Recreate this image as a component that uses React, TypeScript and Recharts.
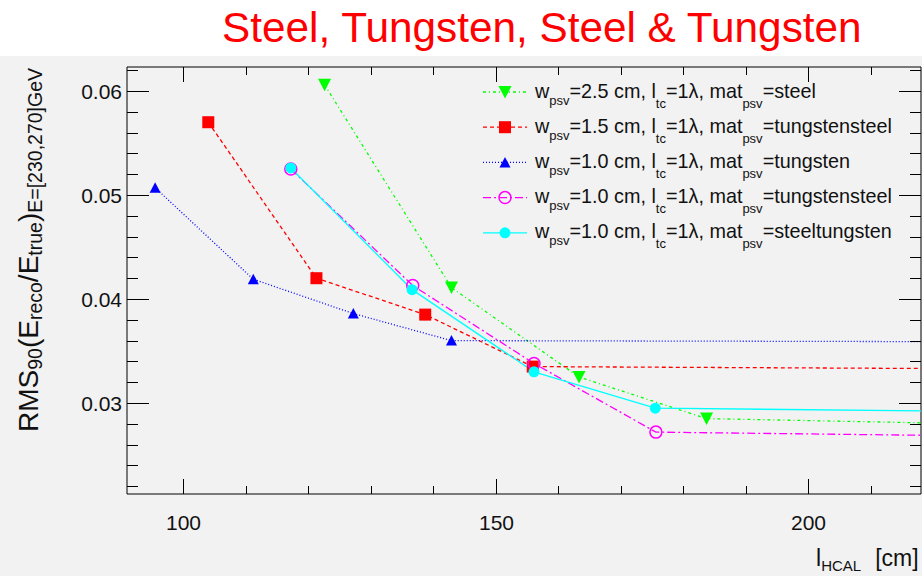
import React from "react";
import {
  LineChart,
  Line,
  XAxis,
  YAxis,
  CartesianGrid,
  ReferenceArea,
  Legend,
} from "recharts";

// tick values (l_HCAL in cm, RMS90 ratio)
const xTicks = [100, 110, 120, 130, 140, 150, 160, 170, 180, 190, 200, 210];
const yTicks = [
  0.022, 0.024, 0.026, 0.028, 0.03, 0.032, 0.034, 0.036, 0.038, 0.04, 0.042,
  0.044, 0.046, 0.048, 0.05, 0.052, 0.054, 0.056, 0.058, 0.06, 0.062,
];

// w_psv = 2.5 cm, steel
const steelX = [122.6, 142.9, 163.3, 183.7, 260];
const steelY = [0.0606, 0.0411, 0.0325, 0.0285, 0.0276];
// w_psv = 1.5 cm, tungstensteel
const tsteel15X = [104.0, 121.3, 138.7, 155.9, 260];
const tsteel15Y = [0.057, 0.042, 0.0385, 0.0335, 0.0332];
// w_psv = 1.0 cm, tungsten
const tungstenX = [95.5, 111.2, 127.2, 142.9, 260];
const tungstenY = [0.0507, 0.0419, 0.0386, 0.036, 0.03585];
// w_psv = 1.0 cm, tungstensteel
const tsteel10X = [117.2, 136.7, 156.1, 175.6, 260];
const tsteel10Y = [0.0525, 0.0413, 0.0338, 0.0272, 0.0266];
// w_psv = 1.0 cm, steeltungsten
const stungX = [117.2, 136.6, 156.1, 175.5, 260];
const stungY = [0.0526, 0.0409, 0.033, 0.0295, 0.029];

const legendWidths = ["2.5", "1.5", "1.0", "1.0", "1.0"];
const legendMaterials = ["steel", "tungstensteel", "tungsten", "tungstensteel", "steeltungsten"];

const FONT = "'Liberation Sans', Arial, Helvetica, sans-serif";
const FRAME = { left: 127, top: 67, right: 921, bottom: 494 };

type MarkerKind = "triDown" | "square" | "triUp" | "circleOpen" | "circle";

const series = [
  { key: "steel", xs: steelX, ys: steelY, color: "#00ff00", dash: "3 3 1 3", marker: "triDown" as MarkerKind },
  { key: "tsteel15", xs: tsteel15X, ys: tsteel15Y, color: "#ff0000", dash: "4 3", marker: "square" as MarkerKind },
  { key: "tungsten", xs: tungstenX, ys: tungstenY, color: "#0000ff", dash: "1 2", marker: "triUp" as MarkerKind },
  { key: "tsteel10", xs: tsteel10X, ys: tsteel10Y, color: "#ff00ff", dash: "8 3 2 3", marker: "circleOpen" as MarkerKind },
  { key: "stung", xs: stungX, ys: stungY, color: "#00ffff", dash: undefined, marker: "circle" as MarkerKind },
];

function Marker({ kind, cx, cy, color }: { kind: MarkerKind; cx: number; cy: number; color: string }) {
  switch (kind) {
    case "triDown":
      return <polygon points={`${cx - 6.5},${cy - 6} ${cx + 6.5},${cy - 6} ${cx},${cy + 6.5}`} fill={color} />;
    case "square":
      return <rect x={cx - 6} y={cy - 6} width={12} height={12} fill={color} />;
    case "triUp":
      return <polygon points={`${cx - 5.5},${cy + 5} ${cx + 5.5},${cy + 5} ${cx},${cy - 5.5}`} fill={color} />;
    case "circleOpen":
      return <circle cx={cx} cy={cy} r={6} fill="none" stroke={color} strokeWidth={1.5} />;
    default:
      return <circle cx={cx} cy={cy} r={5.5} fill={color} />;
  }
}

function XTick(props: any) {
  const x = Math.round(props.x) + 0.5;
  const v = props.payload.value;
  const major = v % 50 === 0;
  const len = major ? 15 : 8;
  return (
    <g>
      <line x1={x} x2={x} y1={FRAME.bottom} y2={FRAME.bottom - len} stroke="#000" />
      <line x1={x} x2={x} y1={FRAME.top} y2={FRAME.top + len} stroke="#000" />
      {major && (
        <text x={x} y={530} textAnchor="middle" fontSize={21} fontFamily={FONT} fill="#111">
          {v}
        </text>
      )}
    </g>
  );
}

function YTick(props: any) {
  const y = Math.round(props.y) + 0.5;
  const v = props.payload.value;
  const major = Math.abs(v * 100 - Math.round(v * 100)) < 1e-9;
  const len = major ? 22 : 11;
  return (
    <g>
      <line x1={FRAME.left} x2={FRAME.left + len} y1={y} y2={y} stroke="#000" />
      <line x1={FRAME.right} x2={FRAME.right - len} y1={y} y2={y} stroke="#000" />
      {major && (
        <text x={122} y={y + 7.5} textAnchor="end" fontSize={21} fontFamily={FONT} fill="#111">
          {v.toFixed(2)}
        </text>
      )}
    </g>
  );
}

function YTitle() {
  return (
    <text transform="translate(38,432) rotate(-90)" fontSize={28} fontFamily={FONT} fill="#111">
      <tspan>RMS</tspan>
      <tspan fontSize={19.5} dy={4}>90</tspan>
      <tspan dy={-4}>(E</tspan>
      <tspan fontSize={19.5} dy={4}>reco</tspan>
      <tspan dy={-4}>/E</tspan>
      <tspan fontSize={19.5} dy={4}>true</tspan>
      <tspan dy={-4}>)</tspan>
      <tspan fontSize={19.5} dy={4}>E=[230,270]GeV</tspan>
    </text>
  );
}

function XTitle() {
  return (
    <text x={816} y={566} fontSize={23} fontFamily={FONT} fill="#111">
      <tspan>l</tspan>
      <tspan fontSize={15} dy={5}>HCAL</tspan>
      <tspan dy={-5} dx={14}>[cm]</tspan>
    </text>
  );
}

function LegendBox() {
  return (
    <svg width={440} height={185} style={{ display: "block", overflow: "visible" }}>
      {series.map((s, i) => {
        const cy = 22 + 35.2 * i;
        const base = cy + 5.5;
        return (
          <g key={s.key}>
            <line x1={5} x2={49} y1={cy} y2={cy} stroke={s.color} strokeWidth={1.3} strokeDasharray={s.dash} />
            <Marker kind={s.marker} cx={27} cy={cy} color={s.color} />
            <text x={57} y={base} fontSize={19.8} fontFamily={FONT} fill="#111">
              <tspan>w</tspan>
              <tspan fontSize={13} dy={7}>psv</tspan>
              <tspan dy={-7}>{`=${legendWidths[i]} cm, l`}</tspan>
              <tspan fontSize={13} dy={10}>tc</tspan>
              <tspan dy={-10}>=1λ, mat</tspan>
              <tspan fontSize={13} dy={10}>psv</tspan>
              <tspan dy={-10}>{`=${legendMaterials[i]}`}</tspan>
            </text>
          </g>
        );
      })}
    </svg>
  );
}

export default function App() {
  const xMin = 91;
  const xMax = 218;
  const yMin = 0.02125;
  const yMax = 0.06231;
  const axisW = 30;

  return (
    <div
      style={{
        position: "absolute",
        left: 0,
        top: 0,
        width: 922,
        height: 576,
        background: "linear-gradient(#ffffff 0px, #ffffff 56px, #f2f2f2 56px)",
        overflow: "hidden",
      }}
    >
      <div
        style={{
          position: "absolute",
          left: 222,
          top: 7,
          fontFamily: FONT,
          fontSize: 42.3,
          lineHeight: "42px",
          color: "#ff0000",
          whiteSpace: "nowrap",
        }}
      >
        Steel, Tungsten, Steel &amp; Tungsten
      </div>
      <LineChart
        width={922}
        height={576}
        margin={{
          top: FRAME.top,
          right: 922 - FRAME.right,
          bottom: 576 - FRAME.bottom - axisW,
          left: FRAME.left - axisW,
        }}
      >
        <CartesianGrid fill="#f2f2f2" horizontal={false} vertical={false} />
        <XAxis
          type="number"
          dataKey="x"
          domain={[xMin, xMax]}
          allowDataOverflow
          ticks={xTicks}
          interval={0}
          tick={<XTick />}
          tickLine={false}
          tickSize={0}
          height={axisW}
          axisLine={false}
          label={<XTitle />}
        />
        <YAxis
          type="number"
          dataKey="y"
          domain={[yMin, yMax]}
          allowDataOverflow
          ticks={yTicks}
          interval={0}
          tick={<YTick />}
          tickLine={false}
          tickSize={0}
          width={axisW}
          axisLine={false}
          label={<YTitle />}
        />
        {series.map((s) => (
          <Line
            key={s.key}
            data={s.xs.map((x, i) => ({ x, y: s.ys[i] }))}
            dataKey="y"
            name={s.key}
            type="linear"
            stroke={s.color}
            strokeWidth={1.3}
            strokeDasharray={s.dash}
            activeDot={false}
            isAnimationActive={false}
            dot={(p: any) =>
              p.cx > FRAME.right ? (
                <g key={`${s.key}-${p.index}`} />
              ) : (
                <g key={`${s.key}-${p.index}`}>
                  <Marker kind={s.marker} cx={p.cx} cy={p.cy} color={s.color} />
                </g>
              )
            }
          />
        ))}
        <ReferenceArea
          x1={xMin}
          x2={xMax}
          y1={yMin}
          y2={yMax}
          fill="none"
          fillOpacity={0}
          stroke="#000"
          strokeWidth={1}
          ifOverflow="visible"
        />
        <Legend
          layout="vertical"
          align="center"
          verticalAlign="middle"
          content={<LegendBox />}
          wrapperStyle={{ position: "absolute", left: 478, top: 70, width: 440, height: 185 }}
        />
      </LineChart>
    </div>
  );
}
